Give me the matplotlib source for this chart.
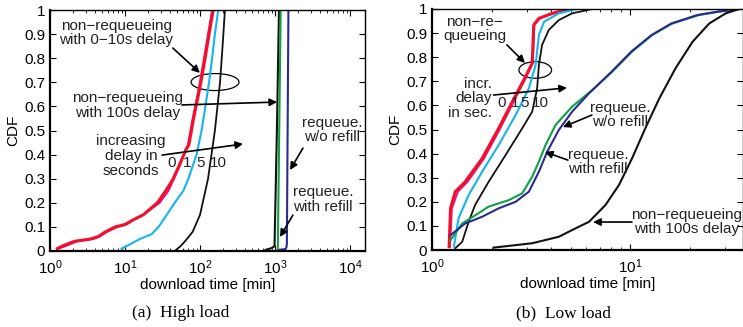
import matplotlib
matplotlib.use("Agg")
import matplotlib.pyplot as plt
from matplotlib.patches import Ellipse
from matplotlib.ticker import LogLocator, FixedLocator

plt.rcParams['font.family'] = ['Liberation Sans', 'DejaVu Sans']
plt.rcParams['mathtext.fontset'] = 'custom'
plt.rcParams['mathtext.rm'] = 'Liberation Sans'
plt.rcParams['mathtext.it'] = 'Liberation Sans'
plt.rcParams['mathtext.default'] = 'regular'

# ---------------- data: (a) high load ----------------
a_red_cdf = [0.01, 0.02, 0.04, 0.05, 0.06, 0.08, 0.10, 0.11, 0.13, 0.15, 0.20, 0.25, 0.30, 0.35, 0.42, 0.44, 0.55, 0.68, 0.80, 0.90, 1.0]
a_red_x = [1.25, 1.45, 2.1, 3.5, 4.4, 5.5, 7.4, 10, 13, 17.5, 27, 35, 44, 52, 65, 71, 82, 100, 117, 132, 150]
a_mag_x = [1.3, 1.6, 2.3, 3.8, 4.6, 5.8, 8.0, 10.5, 13, 17.5, 29, 38, 45, 53, 64, 69, 80, 97, 113, 128, 145]
a_cyan_cdf = [0.01, 0.03, 0.05, 0.07, 0.10, 0.15, 0.20, 0.25, 0.30, 0.40, 0.50, 0.60, 0.70, 0.80, 0.90, 1.0]
a_cyan_x = [9, 12, 15.8, 22.7, 28, 36, 46, 60, 70, 90, 105, 118, 132, 145, 158, 175]
a_blk10_cdf = [0.005, 0.02, 0.04, 0.08, 0.15, 0.30, 0.50, 0.70, 0.85, 1.0]
a_blk10_x = [48, 55, 63, 80, 100, 128, 158, 185, 200, 215]
a_blk100_cdf = [0.005, 0.012, 0.02, 0.5, 1.0]
a_blk100_x = [750, 900, 985, 1060, 1130]
a_green_cdf = [0.005, 0.01, 1.0]
a_green_x = [1080, 1090, 1190]
a_blue_cdf = [0.005, 0.008, 0.015, 0.03, 1.0]
a_blue_x = [1140, 1380, 1420, 1440, 1510]

# ---------------- data: (b) low load ----------------
b_red_cdf = [0.014, 0.173, 0.242, 0.283, 0.38, 0.505, 0.615, 0.719, 0.775, 0.934, 0.961, 0.982, 1.0]
b_red_x = [1.22, 1.24, 1.31, 1.47, 1.79, 2.17, 2.54, 2.96, 3.2, 3.26, 3.46, 4.04, 4.9]
b_mag_x = [1.23, 1.26, 1.35, 1.51, 1.83, 2.21, 2.58, 2.99, 3.22, 3.28, 3.5, 4.1, 4.95]
b_cyan_cdf = [0.014, 0.131, 0.228, 0.325, 0.436, 0.56, 0.671, 0.768, 0.892, 0.947, 0.982, 1.0]
b_cyan_x = [1.29, 1.36, 1.53, 1.79, 2.17, 2.64, 3.08, 3.33, 3.46, 3.67, 4.36, 5.4]
b_blk10_cdf = [0.007, 0.034, 0.117, 0.187, 0.283, 0.394, 0.505, 0.574, 0.671, 0.768, 0.851, 0.913, 0.954, 0.982, 1.0]
b_blk10_x = [1.31, 1.42, 1.53, 1.65, 1.93, 2.35, 2.85, 3.2, 3.39, 3.46, 3.59, 3.88, 4.36, 5.09, 6.43]
b_green_cdf = [0.041, 0.11, 0.145, 0.18, 0.207, 0.235, 0.304, 0.367, 0.436, 0.519, 0.595, 0.664, 0.74, 0.823, 0.892, 0.94, 0.975, 0.989, 1.0]
b_green_x = [1.24, 1.42, 1.66, 1.93, 2.44, 2.85, 3.2, 3.46, 3.74, 4.2, 5.09, 6.43, 8.11, 10.2, 12.9, 16.3, 22.2, 28.0, 35.4]
b_blue_cdf = [0.062, 0.11, 0.138, 0.173, 0.2, 0.242, 0.325, 0.408, 0.498, 0.574, 0.65, 0.74, 0.823, 0.892, 0.94, 0.975, 0.989, 1.0]
b_blue_x = [1.24, 1.47, 1.79, 2.17, 2.64, 3.08, 3.46, 3.81, 4.36, 5.09, 6.19, 8.05, 10.1, 12.8, 16.1, 21.8, 27.6, 35.4]
b_blk100_cdf = [0.01, 0.028, 0.055, 0.09, 0.117, 0.187, 0.27, 0.38, 0.505, 0.629, 0.754, 0.864, 0.94, 0.982, 1.0]
b_blk100_x = [2.05, 3.2, 4.36, 5.3, 6.19, 7.5, 8.77, 10.2, 11.9, 14.0, 16.9, 20.6, 25.0, 30.3, 35.4]

yticks = [0, 0.1, 0.2, 0.3, 0.4, 0.5, 0.6, 0.7, 0.8, 0.9, 1]
ytick_labels = ['0', '0.1', '0.2', '0.3', '0.4', '0.5', '0.6', '0.7', '0.8', '0.9', '1']

C_RED = '#f2102a'
C_MAG = '#e0138c'
C_CYAN = '#14b4ee'
C_BLK = '#111111'
C_GREEN = '#10a040'
C_BLUE = '#2a2a96'

FS = 11

W, H = 743, 327
fig = plt.figure(figsize=(W / 100, H / 100), dpi=100)


def px_axes(x0, x1, ytop, ybot):
    return fig.add_axes([x0 / W, 1 - ybot / H, (x1 - x0) / W, (ybot - ytop) / H])


def style(ax, xlim, xticks):
    ax.set_xscale('log')
    ax.set_xlim(*xlim)
    ax.set_ylim(0, 1)
    ax.set_yticks(yticks)
    ax.set_yticklabels(ytick_labels)
    ax.xaxis.set_major_locator(FixedLocator(xticks))
    ax.xaxis.set_minor_locator(LogLocator(base=10, subs=range(2, 10), numticks=20))
    ax.tick_params(which='both', direction='in', top=True, right=True, labelsize=FS)
    ax.tick_params(which='major', length=4, width=0.8)
    ax.tick_params(which='minor', length=2, width=0.6)
    ax.tick_params(axis='x', pad=5)
    for s in ax.spines.values():
        s.set_linewidth(1.0)
    ax.spines['left'].set_linewidth(1.6)
    ax.spines['bottom'].set_linewidth(1.6)
    ax.set_xlabel('download time [min]', fontsize=FS, labelpad=1)
    ax.set_ylabel('CDF', fontsize=FS, labelpad=3)


def arrow(ax, start, end):
    ax.annotate('', xy=end, xytext=start, xycoords='axes fraction', textcoords='axes fraction',
                arrowprops=dict(arrowstyle='-|>', color='k', lw=1.2, mutation_scale=11,
                                shrinkA=0, shrinkB=0))


def txt(ax, x, y, s, ha='center'):
    ax.text(x, y, s, transform=ax.transAxes, fontsize=FS, ha=ha, va='center',
            multialignment=ha, linespacing=1.05, color='#222222', clip_on=False)


# ---------------- panel (a) ----------------
axa = px_axes(50, 365, 10, 251)
axa.plot(a_mag_x, a_red_cdf, color=C_MAG, lw=1.4)
axa.plot(a_red_x, a_red_cdf, color=C_RED, lw=2.2)
axa.plot(a_cyan_x, a_cyan_cdf, color=C_CYAN, lw=1.5)
axa.plot(a_blk10_x, a_blk10_cdf, color=C_BLK, lw=1.3)
axa.plot(a_blk100_x, a_blk100_cdf, color=C_BLK, lw=1.5)
axa.plot(a_green_x, a_green_cdf, color=C_GREEN, lw=1.5)
axa.plot(a_blue_x, a_blue_cdf, color=C_BLUE, lw=1.5)
style(axa, (1, 10 ** 4.2), [1, 10, 100, 1000, 10000])

txt(axa, 0.21, 0.905, 'non\u2212requeueing\nwith 0\u221210s delay')
arrow(axa, (0.390, 0.842), (0.476, 0.739))
axa.add_patch(Ellipse((0.524, 0.701), 0.152, 0.0705, transform=axa.transAxes,
                      fill=False, ec='k', lw=0.9))
txt(axa, 0.246, 0.604, 'non\u2212requeueing\nwith 100s delay')
arrow(axa, (0.419, 0.606), (0.721, 0.618))
txt(axa, 0.257, 0.394, 'increasing\ndelay in\nseconds')
arrow(axa, (0.356, 0.398), (0.613, 0.444))
for xf, s in zip([0.387, 0.435, 0.479, 0.533], ['0', '1', '5', '10']):
    txt(axa, xf, 0.365, s)
txt(axa, 0.895, 0.502, 'requeue.\nw/o refill')
arrow(axa, (0.803, 0.427), (0.762, 0.336))
txt(axa, 0.867, 0.214, 'requeue.\nwith refill')
arrow(axa, (0.771, 0.149), (0.730, 0.058))

# ---------------- panel (b) ----------------
axb = px_axes(432, 743, 9, 250)
axb.plot(b_mag_x, b_red_cdf, color=C_MAG, lw=1.4)
axb.plot(b_red_x, b_red_cdf, color=C_RED, lw=2.2)
axb.plot(b_cyan_x, b_cyan_cdf, color=C_CYAN, lw=1.5)
axb.plot(b_blk10_x, b_blk10_cdf, color=C_BLK, lw=1.3)
axb.plot(b_green_x, b_green_cdf, color=C_GREEN, lw=1.5)
axb.plot(b_blue_x, b_blue_cdf, color=C_BLUE, lw=1.5)
axb.plot(b_blk100_x, b_blk100_cdf, color=C_BLK, lw=1.5)
style(axb, (1, 37), [1, 10])

txt(axb, 0.138, 0.917, 'non\u2212re\u2212\nqueueing')
arrow(axb, (0.241, 0.851), (0.299, 0.776))
axb.add_patch(Ellipse((0.332, 0.747), 0.105, 0.069, transform=axb.transAxes,
                      fill=False, ec='k', lw=0.9))
txt(axb, 0.193, 0.629, 'incr.\ndelay\nin sec.', ha='right')
arrow(axb, (0.198, 0.643), (0.434, 0.673))
for xf, s in zip([0.225, 0.267, 0.298, 0.347], ['0', '1', '5', '10']):
    txt(axb, xf, 0.609, s)
txt(axb, 0.605, 0.560, 'requeue.\nw/o refill')
arrow(axb, (0.514, 0.560), (0.421, 0.510))
txt(axb, 0.534, 0.365, 'requeue.\nwith refill')
arrow(axb, (0.437, 0.373), (0.363, 0.407))
txt(axb, 0.82, 0.116, 'non\u2212requeueing\nwith 100s delay')
arrow(axb, (0.643, 0.116), (0.518, 0.116))

# ---------------- captions ----------------
fig.text(181 / W, 1 - 313 / H, '(a)  High load', family=['Liberation Serif', 'DejaVu Serif'],
         fontsize=12.5, ha='center', va='center')
fig.text(563 / W, 1 - 313 / H, '(b)  Low load', family=['Liberation Serif', 'DejaVu Serif'],
         fontsize=12.5, ha='center', va='center')

fig.savefig('out.png', dpi=100)
